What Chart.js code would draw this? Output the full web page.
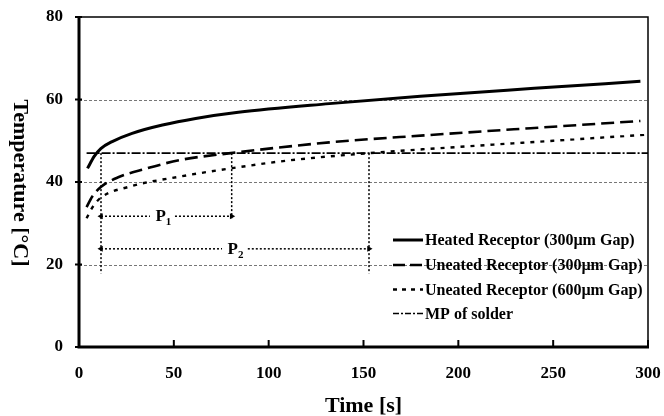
<!DOCTYPE html>
<html><head><meta charset="utf-8">
<script src="https://cdn.jsdelivr.net/npm/chart.js@4.4.1/dist/chart.umd.min.js"></script>
<style>html,body{margin:0;padding:0;background:#fff;}canvas{display:block}</style>
</head><body>
<canvas id="c" width="664" height="416"></canvas>
<script>
// ---- data ----
const xTickValues = [0, 50, 100, 150, 200, 250, 300];
const yTickValues = [0, 20, 40, 60, 80];
const gridValues = [20, 40, 60];

const heatedT = [4.5, 8, 11.5, 17.5, 28, 44, 61.5, 84, 132, 180, 240, 296];
const heatedV = [43.3, 46.2, 48.1, 49.8, 51.8, 53.8, 55.4, 56.9, 59.0, 60.8, 62.7, 64.4];

const unheated300T = [4, 7, 11.5, 21, 35, 53, 80, 132, 182, 240, 296];
const unheated300V = [33.9, 36.5, 38.8, 41.2, 43.2, 45.3, 47.0, 49.6, 51.3, 53.1, 54.8];

const unheated600T = [4, 7, 11.5, 26, 53, 80, 110, 153, 200, 250, 300];
const unheated600V = [31.2, 33.8, 36.2, 38.8, 41.3, 43.3, 45.2, 47.0, 48.5, 50.0, 51.5];

const mpT = [4, 300];
const mpV = [47, 47];

const seriesNames = [
  'Heated Receptor (300\u00b5m Gap)',
  'Uneated Receptor (300\u00b5m Gap)',
  'Uneated Receptor (600\u00b5m Gap)',
  'MP of solder'
];

// period markers (P1, P2)
const markT = [11.6, 80.5, 152.9];
const markTop = [47, 47, 47];
const markBottom = [17.8, 31.2, 17.8];
const p1Level = 31.7;
const p2Level = 23.8;
const p1SegT = [[11.6, 37.4], [50.6, 80.5]];
const p2SegT = [[11.6, 75.4], [89, 152.9]];
const pLabels = [['P', '1', 44, p1Level], ['P', '2', 82, p2Level]];

// ---- helpers ----
const zip = (t, v) => t.map((x, i) => ({x: x, y: v[i]}));
const FONT = "'Liberation Serif', 'Times New Roman', serif";

const styles = [
  {w: 3, dash: [], sampleDash: []},
  {w: 2.6, dash: [13, 6], sampleDash: [12, 5]},
  {w: 2.4, dash: [4, 6], sampleDash: [4, 5]},
  {w: 1.6, dash: [9, 2, 2, 2], sampleDash: [6, 2, 2, 2]}
];

const datasets = [];
[[heatedT, heatedV], [unheated300T, unheated300V], [unheated600T, unheated600V], [mpT, mpV]].forEach((s, i) => {
  datasets.push({
    label: seriesNames[i],
    data: zip(s[0], s[1]),
    borderColor: '#000',
    borderWidth: styles[i].w,
    borderDash: styles[i].dash,
    pointRadius: 0,
    fill: false,
    cubicInterpolationMode: 'monotone',
    borderCapStyle: 'butt'
  });
});

markT.forEach((t, i) => {
  datasets.push({
    label: 'mark' + i,
    data: [{x: t, y: markTop[i]}, {x: t, y: markBottom[i]}],
    borderColor: '#000', borderWidth: 1.5, borderDash: [2, 2],
    pointRadius: 0, fill: false
  });
});

function arrowSegs(segs, level) {
  segs.forEach((seg, j) => {
    const leftEnd = j === 0;
    datasets.push({
      label: 'arrow',
      data: [{x: seg[0], y: level}, {x: seg[1], y: level}],
      borderColor: '#000', borderWidth: 1.5, borderDash: [2, 2],
      pointStyle: 'triangle',
      pointRadius: leftEnd ? [3.5, 0] : [0, 3.5],
      pointRotation: leftEnd ? [-90, 0] : [0, 90],
      pointBackgroundColor: '#000', pointBorderColor: '#000', pointBorderWidth: 0,
      fill: false
    });
  });
}
arrowSegs(p1SegT, p1Level);
arrowSegs(p2SegT, p2Level);

const L = {left: 79, bottom: 347};

const framePlugin = {
  id: 'frame',
  beforeDatasetsDraw(chart) {
    const ctx = chart.ctx, x = chart.scales.x, y = chart.scales.y;
    ctx.save();
    ctx.strokeStyle = '#777';
    ctx.lineWidth = 1;
    ctx.setLineDash([3, 2]);
    gridValues.forEach(v => {
      const py = Math.round(y.getPixelForValue(v)) + 0.5;
      ctx.beginPath();
      ctx.moveTo(x.left, py);
      ctx.lineTo(x.right, py);
      ctx.stroke();
    });
    ctx.restore();
  },
  afterDatasetsDraw(chart) {
    const ctx = chart.ctx, x = chart.scales.x, y = chart.scales.y;
    const l = x.getPixelForValue(0), r = x.getPixelForValue(300);
    const t = y.getPixelForValue(80), b = y.getPixelForValue(0);
    ctx.save();
    ctx.setLineDash([]);
    ctx.strokeStyle = '#000';
    ctx.lineWidth = 1.5;
    ctx.beginPath();
    ctx.moveTo(l, t); ctx.lineTo(r, t); ctx.lineTo(r, b);
    ctx.stroke();
    ctx.lineWidth = 3;
    ctx.beginPath();
    ctx.moveTo(l, t - 1); ctx.lineTo(l, b); ctx.lineTo(r + 1, b);
    ctx.stroke();
    ctx.lineWidth = 2;
    yTickValues.forEach(v => {
      const py = y.getPixelForValue(v);
      ctx.beginPath(); ctx.moveTo(l - 4, py); ctx.lineTo(l + 3, py); ctx.stroke();
    });
    xTickValues.forEach(v => {
      const px = x.getPixelForValue(v);
      ctx.beginPath(); ctx.moveTo(px, b); ctx.lineTo(px, b - 7); ctx.stroke();
    });

    ctx.fillStyle = '#000';
    pLabels.forEach(p => {
      const px = x.getPixelForValue(p[2]);
      const py = y.getPixelForValue(p[3]);
      ctx.font = 'bold 17px ' + FONT;
      ctx.textAlign = 'left';
      ctx.textBaseline = 'alphabetic';
      const w = ctx.measureText(p[0]).width;
      ctx.fillText(p[0], px - 7, py + 5);
      ctx.font = 'bold 11px ' + FONT;
      ctx.fillText(p[1], px - 7 + w, py + 9);
    });

    const rowsY = [240, 265, 289.5, 313.5];
    ctx.font = 'bold 16px ' + FONT;
    ctx.textAlign = 'left';
    ctx.textBaseline = 'middle';
    seriesNames.forEach((name, i) => {
      const yy = rowsY[i];
      ctx.save();
      ctx.lineWidth = styles[i].w;
      ctx.setLineDash(styles[i].sampleDash);
      ctx.beginPath(); ctx.moveTo(393, yy); ctx.lineTo(423, yy); ctx.stroke();
      ctx.restore();
      ctx.fillText(name, 425, yy + 1);
    });

    ctx.save();
    ctx.translate(20, 183);
    ctx.rotate(Math.PI / 2);
    ctx.font = 'bold 22px ' + FONT;
    ctx.textAlign = 'center';
    ctx.textBaseline = 'middle';
    ctx.fillText('Temperature [\u00b0C]', 0, 0);
    ctx.restore();

    ctx.restore();
  }
};

new Chart(document.getElementById('c'), {
  type: 'line',
  data: {datasets: datasets},
  plugins: [framePlugin],
  options: {
    responsive: false,
    animation: false,
    devicePixelRatio: 1,
    layout: {padding: {top: 17, right: 16, left: 0, bottom: 0}},
    plugins: {legend: {display: false}, tooltip: {enabled: false}},
    scales: {
      x: {
        type: 'linear', min: 0, max: 300,
        afterFit(s) { s.height = 416 - L.bottom; s.paddingLeft = 0; s.paddingRight = 0; },
        afterBuildTicks(s) { s.ticks = xTickValues.map(v => ({value: v})); },
        grid: {display: false, drawTicks: false},
        border: {display: false},
        ticks: {color: '#000', font: {family: FONT, size: 17, weight: 'bold'}, padding: 16, maxRotation: 0},
        title: {display: true, text: 'Time [s]', color: '#000',
                font: {family: FONT, size: 22, weight: 'bold', lineHeight: 1}, padding: {top: 0, bottom: -1}}
      },
      y: {
        type: 'linear', min: 0, max: 80,
        afterFit(s) { s.width = L.left; s.paddingTop = 0; s.paddingBottom = 0; },
        afterBuildTicks(s) { s.ticks = yTickValues.map(v => ({value: v})); },
        grid: {display: false, drawTicks: false},
        border: {display: false},
        ticks: {color: '#000', font: {family: FONT, size: 17, weight: 'bold'}, padding: 16}
      }
    }
  }
});
</script>
</body></html>
